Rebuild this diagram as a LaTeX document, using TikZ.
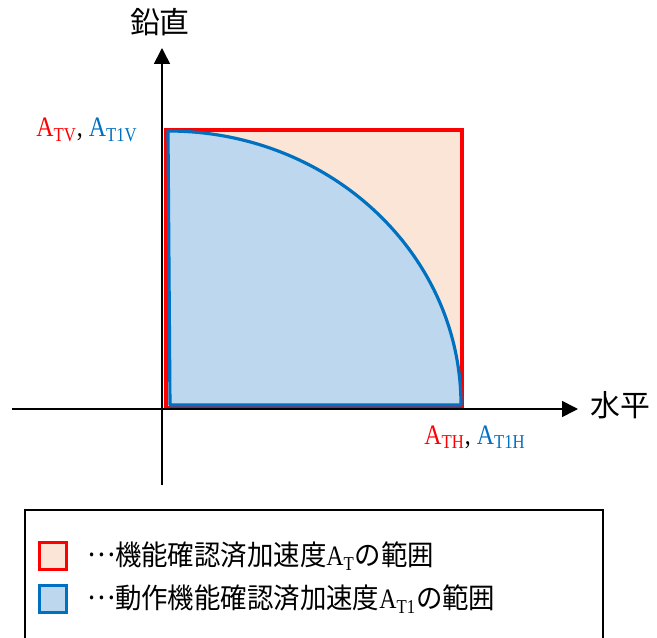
\documentclass[tikz,border=0pt]{standalone}
\usepackage{fontspec}
\setmainfont{Liberation Serif}
\newfontfamily\jp{Noto Sans CJK JP}
\newfontfamily\jpnarrow[FakeStretch=0.94]{Noto Sans CJK JP}
\newfontfamily\latnarrow[FakeStretch=0.85]{Liberation Serif}
\newcommand\middots{\raisebox{0.32em}{…}}
\usetikzlibrary{arrows.meta,positioning}
\definecolor{redline}{HTML}{FF0000}
\definecolor{redfill}{HTML}{FBE5D6}
\definecolor{blueline}{HTML}{0070C0}
\definecolor{bluefill}{HTML}{BDD7EE}
\tikzset{
  axis/.style={line width=0.9pt, -{Triangle[length=9pt,width=9pt]}},
  keybox/.style={minimum size=15pt, line width=1.8pt, inner sep=0pt},
  keytext/.style={font=\jpnarrow\fontsize{16}{19}\selectfont, inner sep=0pt},
  axislabel/.style={font=\jp\fontsize{17}{20}\selectfont, inner sep=0pt},
  vallabel/.style={font=\latnarrow\fontsize{16}{19}\selectfont, inner sep=0pt}
}
\begin{document}
\begin{tikzpicture}[x=0.02cm,y=0.02cm]
\useasboundingbox (0,0) rectangle (657,637);

% areas
\draw[redline, fill=redfill, line width=1.8pt] (166,229) rectangle (462,507);
\draw[blueline, fill=bluefill, line width=1.8pt, line join=round]
  (168,506) -- (170,232) -- (461,232) arc[start angle=0, end angle=90, x radius=293, y radius=274] -- cycle;

% axes
\coordinate (xl) at (12,228);
\coordinate (xr) at (578,228);
\coordinate (yb) at (162,152);
\coordinate (yt) at (162,589);
\draw[axis] (xl) -- (xr);
\draw[axis] (yb) -- (yt);
\node[axislabel] (vert) at (160,615) {鉛直};
\node[axislabel] (horiz) at (620,232) {水平};

% values
\node[vallabel] (av) at (87,507) {\textcolor{redline}{A\textsubscript{TV}}, \textcolor{blueline}{A\textsubscript{T1V}}};
\node[vallabel] (ah) at (475,200) {\textcolor{redline}{A\textsubscript{TH}}, \textcolor{blueline}{A\textsubscript{T1H}}};

% legend
\draw[line width=0.6pt] (25,-5) rectangle (603,127);
\node[keybox, draw=redline, fill=redfill] (k1) at (53,81) {};
\node[keybox, draw=blueline, fill=bluefill] (k2) at (53,38) {};
\node[keytext, right=0.38cm of k1] (t1) {\middots 機能確認済加速度{\latnarrow A\textsubscript{T}}の範囲};
\node[keytext, right=0.38cm of k2] (t2) {\middots 動作機能確認済加速度{\latnarrow A\textsubscript{T1}}の範囲};
\end{tikzpicture}
\end{document}
